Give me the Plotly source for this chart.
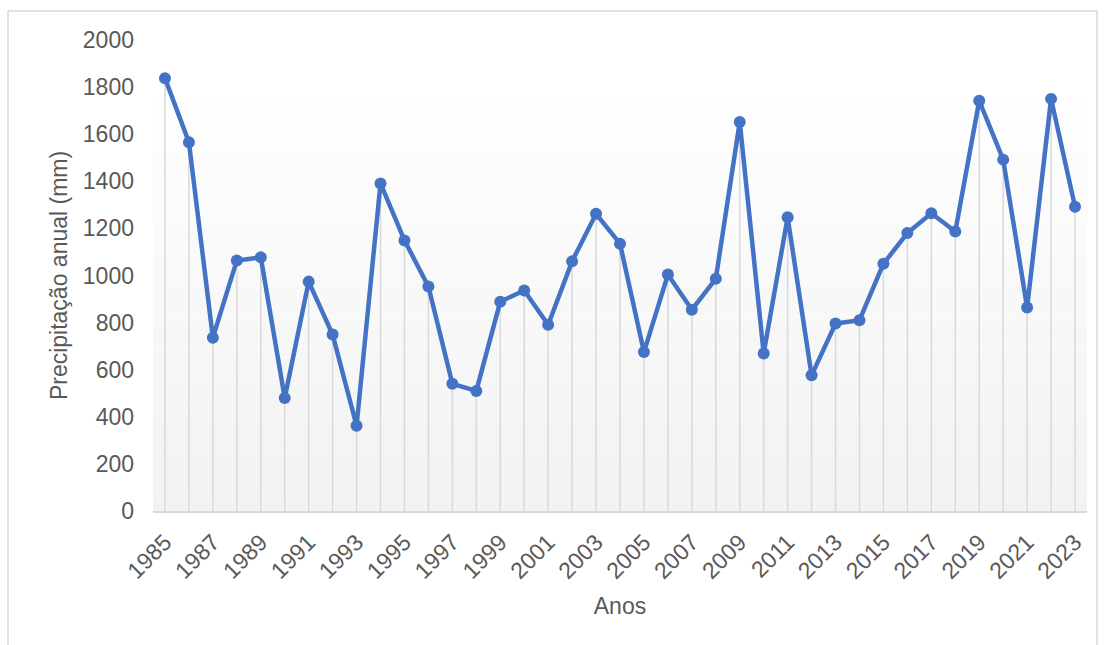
import plotly.graph_objects as go

# Annual precipitation series
anos = list(range(1985, 2024))
precipitacao = [
    1838, 1566, 736, 1064, 1077, 480, 974, 749, 362, 1391,
    1149, 953, 540, 510, 889, 936, 791, 1060, 1262, 1135,
    675, 1004, 855, 986, 1652, 669, 1247, 576, 796, 810,
    1050, 1180, 1264, 1187, 1742, 1492, 864, 1750, 1292,
]
y_ticks = list(range(0, 2001, 200))
x_ticks = anos[::2]

LINE_BLUE = "#4472c4"
DROP_GRAY = "#d9d9d9"
TEXT_GRAY = "#595959"
FONT = "Liberation Sans, Arial, sans-serif"
FS = 23

fig = go.Figure()

# Vertical drop lines from each point to the axis
drop_x, drop_y = [], []
for a, v in zip(anos, precipitacao):
    drop_x += [a, a, None]
    drop_y += [0, v, None]
fig.add_trace(go.Scatter(
    x=drop_x, y=drop_y, mode="lines",
    line=dict(color=DROP_GRAY, width=1.5),
    hoverinfo="skip", showlegend=False,
))

# Main precipitation line
fig.add_trace(go.Scatter(
    x=anos, y=precipitacao, mode="lines+markers",
    line=dict(color=LINE_BLUE, width=4.5),
    marker=dict(color=LINE_BLUE, size=12),
    showlegend=False,
))

# Soft vertical gradient behind the plot (white at top to light gray at bottom)
shapes = []
n = 40
top_frac = 0.868
for i in range(n):
    y0 = top_frac * i / n
    y1 = top_frac * (i + 1) / n
    t = i / (n - 1)
    c = round(242 + (254 - 242) * t)
    shapes.append(dict(
        type="rect", xref="x domain", yref="y domain",
        x0=0, x1=1, y0=y0, y1=y1,
        fillcolor=f"rgb({c},{c},{c})", line=dict(width=0), layer="below",
    ))
# Outer chart border
shapes.append(dict(
    type="rect", xref="paper", yref="paper",
    x0=-145 / 934, x1=1.0 + 10 / 934, y0=-140 / 471, y1=1.0 + 29 / 471,
    line=dict(color=DROP_GRAY, width=1.5), fillcolor="rgba(0,0,0,0)", layer="below",
))

fig.update_layout(
    width=1107, height=645,
    margin=dict(l=153, r=20, t=40, b=134),
    paper_bgcolor="white", plot_bgcolor="white",
    font=dict(family=FONT, color=TEXT_GRAY, size=FS),
    shapes=shapes,
    xaxis=dict(
        range=[1984.5, 2023.5],
        tickmode="array", tickvals=x_ticks, ticktext=[str(t) for t in x_ticks],
        tickangle=-45, showgrid=False, zeroline=False,
        showline=True, linecolor=DROP_GRAY, linewidth=1.5,
        ticks="", ticklabelstandoff=7,
        tickfont=dict(size=FS, color=TEXT_GRAY),
        title=dict(text="Anos", font=dict(size=FS, color=TEXT_GRAY), standoff=15),
    ),
    yaxis=dict(
        range=[0, 2000],
        tickmode="array", tickvals=y_ticks,
        showgrid=False, zeroline=False, showline=False, ticks="",
        ticklabelstandoff=18,
        tickfont=dict(size=FS, color=TEXT_GRAY),
        title=dict(text="Precipitação anual (mm)", font=dict(size=FS, color=TEXT_GRAY), standoff=8),
    ),
)

fig.write_html("out.html")
